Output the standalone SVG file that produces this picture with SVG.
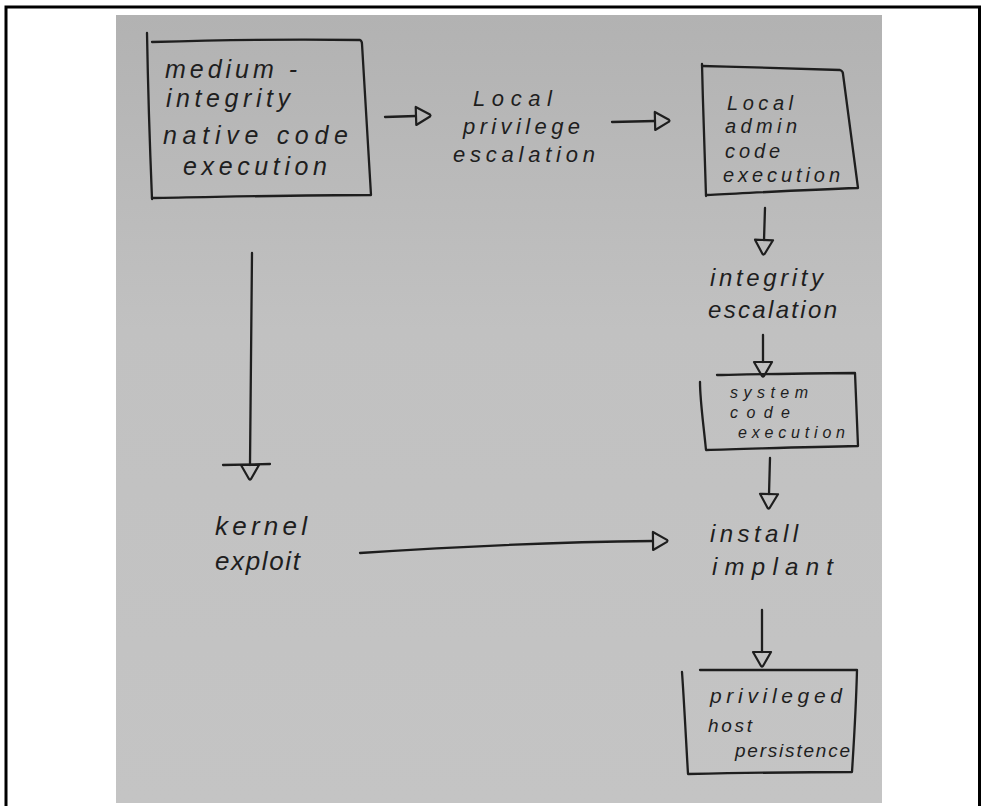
<svg xmlns="http://www.w3.org/2000/svg" width="981" height="806" viewBox="0 0 981 806">
  <defs>
    <linearGradient id="paper" x1="0" y1="0" x2="0" y2="1">
      <stop offset="0" stop-color="#b2b2b2"/>
      <stop offset="0.4" stop-color="#c1c1c1"/>
      <stop offset="1" stop-color="#c4c4c4"/>
    </linearGradient>
    <marker id="head" markerUnits="userSpaceOnUse" markerWidth="30" markerHeight="30" refX="1" refY="10" orient="auto" overflow="visible">
      <path d="M1,1 L1,19 L15,11 Q16,10 15,9 Z" fill="none" stroke="#1e1e1e" stroke-width="2.2" stroke-linejoin="round"/>
    </marker>
    <style>
      .pen { fill: none; stroke: #1e1e1e; stroke-width: 2.3; stroke-linecap: round; stroke-linejoin: round; }
      .ink { fill: #1e1e1e; font-family: "Liberation Sans", "DejaVu Sans", sans-serif; font-style: italic; }
      .frame { stroke: #000; stroke-width: 3; fill: none; }
    </style>
  </defs>

  <!-- page and frame -->
  <rect x="0" y="0" width="981" height="806" fill="#fff"/>
  <rect x="116" y="15" width="766" height="788" fill="url(#paper)"/>
  <path class="frame" d="M6,806 L6,7 L981,7"/>
  <line class="frame" x1="979.5" y1="7" x2="979.5" y2="806"/>

  <!-- connectors -->
  <g id="connectors">
    <path class="pen" d="M385,117 L416,116" marker-end="url(#head)"/>
    <path class="pen" d="M612,122 L655,121" marker-end="url(#head)"/>
    <path class="pen" d="M765,208 L764,240" marker-end="url(#head)"/>
    <path class="pen" d="M763,335 L763,362" marker-end="url(#head)"/>
    <path class="pen" d="M770,458 L769,494" marker-end="url(#head)"/>
    <path class="pen" d="M762,610 L762,652" marker-end="url(#head)"/>
    <path class="pen" d="M252,253 C251,330 250,400 250,465" marker-end="url(#head)"/>
    <path class="pen" d="M223,465 L270,464"/>
    <path class="pen" d="M360,553 C450,547 560,542 653,541" marker-end="url(#head)"/>
  </g>

  <!-- medium-integrity native code execution -->
  <g id="node-medium-integrity">
    <path class="pen" d="M147,33 C148,90 150,150 152,199"/>
    <path class="pen" d="M152,42 C220,40 300,39 360,40 Q362,41 362,44 L371,195 C300,195 220,197 152,198"/>
    <text class="ink" x="165" y="78" font-size="25" textLength="132" lengthAdjust="spacing">medium -</text>
    <text class="ink" x="166" y="107" font-size="25" textLength="124" lengthAdjust="spacing">integrity</text>
    <text class="ink" x="163" y="144" font-size="25" textLength="185" lengthAdjust="spacing">native code</text>
    <text class="ink" x="183" y="175" font-size="25" textLength="144" lengthAdjust="spacing">execution</text>
  </g>

  <!-- local privilege escalation -->
  <g id="node-local-privilege-escalation">
    <text class="ink" x="473" y="106" font-size="22" textLength="79" lengthAdjust="spacing">Local</text>
    <text class="ink" x="463" y="134" font-size="22" textLength="117" lengthAdjust="spacing">privilege</text>
    <text class="ink" x="453" y="162" font-size="22" textLength="142" lengthAdjust="spacing">escalation</text>
  </g>

  <!-- local admin code execution -->
  <g id="node-local-admin">
    <path class="pen" d="M702,64 C703,110 705,160 706,196"/>
    <path class="pen" d="M702,66 C750,67 800,69 840,70 Q843,71 843,74 L858,188 C800,190 750,193 707,195"/>
    <text class="ink" x="727" y="110" font-size="20" textLength="66" lengthAdjust="spacing">Local</text>
    <text class="ink" x="725" y="133" font-size="20" textLength="72" lengthAdjust="spacing">admin</text>
    <text class="ink" x="725" y="158" font-size="20" textLength="55" lengthAdjust="spacing">code</text>
    <text class="ink" x="723" y="182" font-size="20" textLength="117" lengthAdjust="spacing">execution</text>
  </g>

  <!-- integrity escalation -->
  <g id="node-integrity-escalation">
    <text class="ink" x="710" y="286" font-size="24" textLength="113" lengthAdjust="spacing">integrity</text>
    <text class="ink" x="708" y="318" font-size="24" textLength="129" lengthAdjust="spacing">escalation</text>
  </g>

  <!-- system code execution -->
  <g id="node-system-code">
    <path class="pen" d="M717,375 C770,374 820,373 855,373 L858,446 C800,447 750,449 706,450 C703,420 700,400 700,382"/>
    <text class="ink" x="730" y="398" font-size="16" textLength="78" lengthAdjust="spacing">system</text>
    <text class="ink" x="730" y="418" font-size="16" textLength="60" lengthAdjust="spacing">code</text>
    <text class="ink" x="738" y="438" font-size="16" textLength="107" lengthAdjust="spacing">execution</text>
  </g>

  <!-- install implant -->
  <g id="node-install-implant">
    <text class="ink" x="710" y="542" font-size="24" textLength="88" lengthAdjust="spacing">install</text>
    <text class="ink" x="712" y="575" font-size="24" textLength="121" lengthAdjust="spacing">implant</text>
  </g>

  <!-- kernel exploit -->
  <g id="node-kernel-exploit">
    <text class="ink" x="215" y="535" font-size="26" textLength="92" lengthAdjust="spacing">kernel</text>
    <text class="ink" x="215" y="570" font-size="26" textLength="85" lengthAdjust="spacing">exploit</text>
  </g>

  <!-- privileged host persistence -->
  <g id="node-privileged-persistence">
    <path class="pen" d="M700,670 C760,670 820,670 857,670 C856,710 854,740 852,772 C800,772 740,773 688,774 C686,740 684,700 682,672"/>
    <text class="ink" x="710" y="703" font-size="21" textLength="132" lengthAdjust="spacing">privileged</text>
    <text class="ink" x="708" y="732" font-size="19" textLength="44" lengthAdjust="spacing">host</text>
    <text class="ink" x="735" y="757" font-size="19" textLength="115" lengthAdjust="spacing">persistence</text>
  </g>
</svg>
